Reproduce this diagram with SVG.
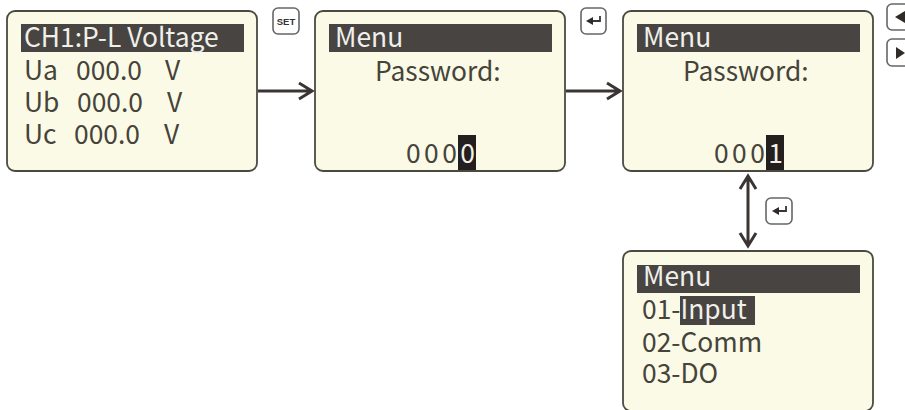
<svg xmlns="http://www.w3.org/2000/svg" width="905" height="410" viewBox="0 0 905 410">
<defs>
<style>
.lcd{fill:#fbfae6;stroke:#4a4a40;stroke-width:1.8}
.bar{fill:#474442}
.t{font-family:"Noto Sans CJK SC","Noto Sans",sans-serif;font-size:26.4px;fill:#45433a}
.w{fill:#f0f0ea}
.key{fill:#fff;stroke:#666;stroke-width:1.6}
.c{fill:none;stroke:#3a3532;stroke-width:3}
.h{fill:none;stroke:#3a3532;stroke-width:1.8}
.g{fill:#2e2b29}
</style>
</defs>
<rect width="905" height="410" fill="#fff"/>
<g id="connectors">
<path class="c" d="M258 91H311M299 83L312 91L299 99"/>
<path class="c" d="M566 91H619M607 83L620 91L607 99"/>
<path class="c" d="M748 176V246M740 189L748 176L756 189M740 233L748 246L756 233"/>
</g>
<g id="screen1">
<rect class="lcd" x="7" y="11" width="250" height="160" rx="8"/>
<rect class="bar" x="21" y="24" width="223" height="28"/>
<text class="t w" x="24" y="47">CH1:P-L Voltage</text>
<text class="t" x="24" y="80">Ua</text><text class="t" x="76" y="80">000.0</text><text class="t" x="165" y="80">V</text>
<text class="t" x="24" y="112">Ub</text><text class="t" x="77" y="112">000.0</text><text class="t" x="167" y="112">V</text>
<text class="t" x="24" y="144">Uc</text><text class="t" x="74" y="144">000.0</text><text class="t" x="164" y="144">V</text>
</g>
<g id="key-set">
<rect class="key" x="273" y="8" width="26" height="26" rx="5"/>
<text x="286" y="25" text-anchor="middle" font-family="Liberation Sans,sans-serif" font-size="9.5" font-weight="700" fill="#333">SET</text>
</g>
<g id="screen2">
<rect class="lcd" x="315" y="11" width="250" height="160" rx="8"/>
<rect class="bar" x="329" y="24" width="223" height="28"/>
<text class="t w" x="335" y="47">Menu</text>
<text class="t" x="375" y="81">Password:</text>
<rect x="458" y="135" width="18" height="35" fill="#231f1e"/>
<text class="t" x="406" y="163" textLength="69">000<tspan class="w">0</tspan></text>
</g>
<g id="key-enter-1">
<rect class="key" x="581" y="8" width="25" height="26" rx="5"/>
<path class="h" d="M600 16V21H590"/><path class="g" d="M586 21L593 17V25Z"/>
</g>
<g id="screen3">
<rect class="lcd" x="623" y="11" width="250" height="160" rx="8"/>
<rect class="bar" x="637" y="24" width="223" height="28"/>
<text class="t w" x="643" y="47">Menu</text>
<text class="t" x="683" y="81">Password:</text>
<rect x="766" y="135" width="18" height="35" fill="#231f1e"/>
<text class="t" x="714" y="163" textLength="69">000<tspan class="w">1</tspan></text>
</g>
<g id="key-left">
<rect class="key" x="887" y="4" width="24" height="26" rx="5"/>
<path class="g" d="M895 17L905 11V23Z"/>
</g>
<g id="key-right">
<rect class="key" x="887" y="39" width="24" height="27" rx="5"/>
<path class="g" d="M905 53L896 47V59Z"/>
</g>
<g id="key-enter-2">
<rect class="key" x="766" y="198" width="26" height="26" rx="5"/>
<path class="h" d="M786 206V211H776"/><path class="g" d="M772 211L779 207V215Z"/>
</g>
<g id="screen4">
<rect class="lcd" x="623" y="251" width="250" height="160" rx="8"/>
<rect class="bar" x="637" y="265" width="223" height="28"/>
<text class="t w" x="643" y="286">Menu</text>
<rect class="bar" x="680" y="296" width="75" height="29"/>
<text class="t" x="642" y="319">01-<tspan class="w">Input</tspan></text>
<text class="t" x="642" y="352">02-Comm</text>
<text class="t" x="642" y="383">03-DO</text>
</g>
</svg>
